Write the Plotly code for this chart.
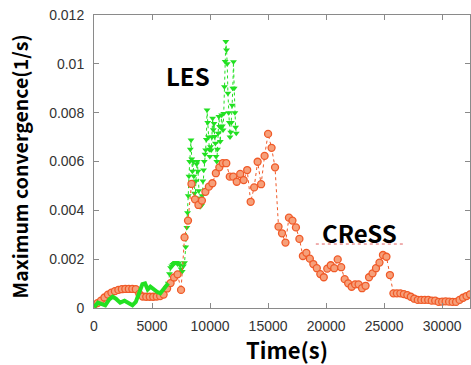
import plotly.graph_objects as go

# CReSS: one value every 300 s
cress_step = 300
cress_y = [
    0.00012, 0.00020, 0.00030, 0.00043, 0.00055, 0.00063, 0.00069, 0.00074, 0.00077, 0.00078,
    0.00078, 0.00078, 0.00077, 0.00058, 0.00047, 0.00046, 0.00046, 0.00046, 0.00047, 0.00049,
    0.00055, 0.00080, 0.00102, 0.00125, 0.00138, 0.00074, 0.00289, 0.00358, 0.00508, 0.00445,
    0.00422, 0.00440, 0.00476, 0.00497, 0.00511, 0.00552, 0.00576, 0.00593, 0.00593, 0.00538,
    0.00538, 0.00517, 0.00549, 0.00524, 0.00565, 0.00435, 0.00494, 0.00599, 0.00507, 0.00623,
    0.00713, 0.00656, 0.00576, 0.00333, 0.00306, 0.00268, 0.00370, 0.00358, 0.00330, 0.00283,
    0.00213, 0.00226, 0.00202, 0.00180, 0.00163, 0.00139, 0.00126, 0.00161, 0.00175, 0.00163,
    0.00199, 0.00167, 0.00118, 0.00101, 0.00087, 0.00097, 0.00097, 0.00081, 0.00091, 0.00126,
    0.00142, 0.00163, 0.00186, 0.00217, 0.00210, 0.00135, 0.00060, 0.00060, 0.00060, 0.00057,
    0.00053, 0.00046, 0.00038, 0.00033, 0.00033, 0.00033, 0.00033, 0.00030, 0.00030, 0.00025,
    0.00026, 0.00027, 0.00026, 0.00025, 0.00025, 0.00033, 0.00042, 0.00049, 0.00056,
]
cress_x = [i * cress_step for i in range(len(cress_y))]

# LES, early dense output (drawn as a thick line)
les_early_x = [0, 343, 686, 971, 1314, 1600, 1886, 2257, 2629, 2971, 3314, 3600, 3886,
               4171, 4400, 4629, 4857, 5143, 5429, 5714, 5943, 6171, 6400]
les_early_y = [0.00003, 0.00022, 0.00016, 0.00011, 0.00035, 0.00046, 0.00038, 0.00022,
               0.00030, 0.00019, 0.00011, 0.00025, 0.00057, 0.00098, 0.00101, 0.00076,
               0.00087, 0.00074, 0.00066, 0.00060, 0.00074, 0.00087, 0.00101]

# LES, later output with markers
les_x = [6400, 6500, 6600, 6700, 6800, 6900, 7000, 7100, 7200, 7300, 7400, 7500, 7600, 7700,
         7800, 7900, 8000, 8060, 8120, 8180, 8240, 8300, 8360, 8420, 8480, 8540, 8600, 8660,
         8720, 8780, 8840, 8900, 8960, 9020, 9080, 9140, 9200, 9260, 9320, 9380, 9440, 9500,
         9560, 9620, 9680, 9740, 9800, 9860, 9920, 9980, 10040, 10100, 10160, 10220, 10280,
         10340, 10400, 10460, 10520, 10580, 10640, 10700, 10760, 10820, 10880, 10940, 11000,
         11060, 11120, 11180, 11240, 11300, 11360, 11420, 11480, 11540, 11600, 11660, 11720,
         11780, 11840, 11900, 11960, 12020, 12080, 12140, 12200, 12260]
les_y = [0.00101, 0.00140, 0.00165, 0.00172, 0.00178, 0.00182, 0.00186, 0.00186, 0.00180,
         0.00184, 0.00176, 0.00160, 0.00150, 0.00172, 0.00185, 0.00250, 0.00330, 0.00390,
         0.00460, 0.00540, 0.00600, 0.00650, 0.00688, 0.00610, 0.00560, 0.00600, 0.00540,
         0.00470, 0.00450, 0.00520, 0.00590, 0.00600, 0.00560, 0.00480, 0.00450, 0.00415,
         0.00440, 0.00420, 0.00460, 0.00520, 0.00565, 0.00600, 0.00630, 0.00647, 0.00690,
         0.00811, 0.00760, 0.00700, 0.00650, 0.00620, 0.00660, 0.00647, 0.00700, 0.00777,
         0.00730, 0.00756, 0.00702, 0.00675, 0.00620, 0.00600, 0.00650, 0.00716, 0.00784,
         0.00743, 0.00682, 0.00740, 0.00790, 0.00745, 0.00729, 0.00797, 0.00906, 0.01010,
         0.01091, 0.01057, 0.01000, 0.00880, 0.00800, 0.00760, 0.00700, 0.00720, 0.00760,
         0.00830, 0.00900, 0.01009, 0.00900, 0.00800, 0.00740, 0.00716]

x_ticks = [0, 5000, 10000, 15000, 20000, 25000, 30000]
x_labels = ["0", "5000", "10000", "15000", "20000", "25000", "30000"]
y_ticks = [0, 0.002, 0.004, 0.006, 0.008, 0.010, 0.012]
y_labels = ["0", "0.002", "0.004", "0.006", "0.008", "0.01", "0.012"]

green = "#22e022"
orange_edge = "#f05a28"
orange_fill = "#f6a07a"

fig = go.Figure()
fig.add_trace(go.Scatter(
    x=les_x, y=les_y, mode="lines+markers",
    line=dict(color=green, width=1, dash="dot"),
    marker=dict(symbol="triangle-down", size=6, color=green),
    showlegend=False))
fig.add_trace(go.Scatter(
    x=cress_x, y=cress_y, mode="lines+markers",
    line=dict(color=orange_edge, width=1, dash="dot"),
    marker=dict(symbol="circle", size=7, color=orange_fill,
                line=dict(color=orange_edge, width=1.3)),
    showlegend=False))
fig.add_trace(go.Scatter(
    x=les_early_x, y=les_early_y, mode="lines",
    line=dict(color=green, width=4),
    showlegend=False))

axis_common = dict(
    showgrid=False, zeroline=False, showline=True, linecolor="#8a8a8a", linewidth=1,
    mirror="ticks", ticks="inside", ticklen=5, tickcolor="#8a8a8a",
    tickfont=dict(family="Liberation Sans, Arial, sans-serif", size=14, color="#333333"),
)
fig.update_xaxes(range=[0, 32400], tickvals=x_ticks, ticktext=x_labels,
                 ticklabelstandoff=5, **axis_common)
fig.update_yaxes(range=[0, 0.012], tickvals=y_ticks, ticktext=y_labels,
                 ticklabelstandoff=6, **axis_common)

title_font = dict(family="Noto Sans CJK JP, Noto Sans, sans-serif", color="#000000")
fig.add_annotation(text="<b>Time(s)</b>", xref="paper", yref="paper", x=0.513, y=-0.141,
                   xanchor="center", yanchor="middle",
                   showarrow=False, font=dict(size=22, **title_font))
fig.add_annotation(text="<b>Maximum convergence(1/s)</b>", xref="paper", yref="paper",
                   x=-0.197, y=0.483, xanchor="center", yanchor="middle",
                   textangle=-90, showarrow=False,
                   font=dict(size=19.5, **title_font))
fig.add_annotation(text="<b>LES</b>", x=8057, y=0.00954, showarrow=False,
                   xanchor="center", yanchor="middle",
                   font=dict(size=24, **title_font))
fig.add_annotation(text="<b>CReSS</b>", x=22886, y=0.00311, showarrow=False,
                   xanchor="center", yanchor="middle",
                   font=dict(size=24, **title_font))
fig.add_shape(type="line", x0=19115, x1=26660, y0=0.00262, y1=0.00262,
              line=dict(color="#e06060", width=1, dash="dot"))

fig.update_layout(
    width=471, height=365, margin=dict(l=94, r=1, t=15, b=57),
    paper_bgcolor="white", plot_bgcolor="white",
)
fig.write_html("out.html")
